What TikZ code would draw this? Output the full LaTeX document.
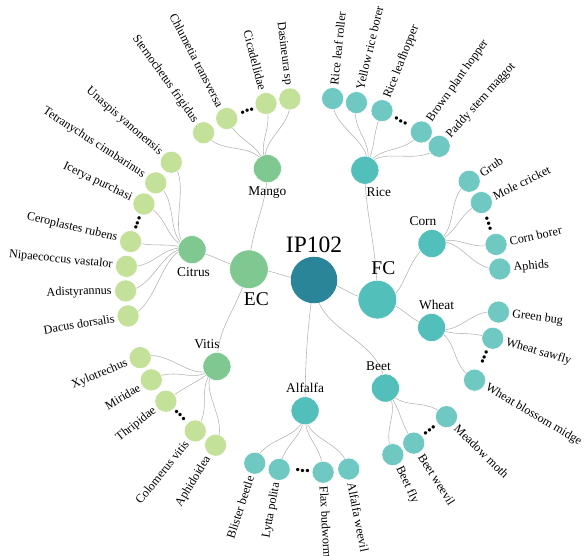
\documentclass[tikz,border=0pt]{standalone}
\usepackage{fontspec}
\setmainfont{Liberation Serif}
\usetikzlibrary{backgrounds}
\definecolor{rootc}{HTML}{2B8599}
\definecolor{ecc}{HTML}{80C891}
\definecolor{ecleaf}{HTML}{C4E19A}
\definecolor{fcc}{HTML}{52BFBB}
\definecolor{fcleaf}{HTML}{6FC8C1}
\tikzset{
  rootnode/.style={circle, fill=rootc, minimum size=46.5pt, inner sep=0pt},
  groupnode/.style={circle, fill=#1, draw=white, line width=0.5pt, minimum size=38.6pt, inner sep=0pt},
  cropnode/.style={circle, fill=#1, draw=white, line width=0.5pt, minimum size=28pt, inner sep=0pt},
  pestnode/.style={circle, fill=#1, draw=white, line width=0.5pt, minimum size=22pt, inner sep=0pt},
  lbl/.style={font=\fontsize{12.2}{14}\selectfont, inner sep=2.5pt},
  txtR/.style 2 args={label={[lbl, rotate=#1, anchor=west]#1:#2}},
  txtL/.style 2 args={label={[lbl, rotate=#1-180, anchor=east]#1:#2}},
  croplbl/.style={font=\fontsize{13.4}{15}\selectfont},
  grouplbl/.style={font=\fontsize{19.5}{22}\selectfont},
  rootlbl/.style={font=\fontsize{23.5}{26}\selectfont},
  gapdots/.style={rotate=#1+90, inner sep=0pt, font=\fontsize{14}{14}\selectfont},
  linkline/.style={draw=black!30, line width=0.55pt},
}

\begin{document}
\begin{tikzpicture}[x=1pt, y=1pt]
  \useasboundingbox (-313,-270) rectangle (273,285);

  \node[rootnode, label={[rootlbl]above:IP102}] (ip) at (1,5) {};
  \node[groupnode=ecc, label={[grouplbl, xshift=7.5pt]below:EC}] (ec) at (166.2:66) {};
  \node[groupnode=fcc, label={[grouplbl, xshift=6pt, yshift=2pt]above:FC}] (fc) at (-12.8:66) {};

  % economic crops
  \node[cropnode=ecc, label={[croplbl]below:Mango}] (mango) at (111.4:125) {};
  \node[cropnode=ecc, label={[croplbl, xshift=1.5pt]below:Citrus}] (citrus) at (163.7:126) {};
  \node[cropnode=ecc, label={[croplbl, xshift=-10pt]above:Vitis}] (vitis) at (220.3:126) {};
  % field crops
  \node[cropnode=fcc, label={[croplbl, xshift=14pt]below:Rice}] (rice) at (65.7:126) {};
  \node[cropnode=fcc, label={[croplbl, xshift=-9pt]above:Corn}] (corn) at (19.2:126) {};
  \node[cropnode=fcc, label={[croplbl, xshift=5pt]above:Wheat}] (wheat) at (-19.7:126) {};
  \node[cropnode=fcc, label={[croplbl, xshift=-7pt]above:Beet}] (beet) at (-54.9:126) {};
  \node[cropnode=fcc, label={[croplbl]above:Alfalfa}] (alfalfa) at (266.4:126) {};

  % mango pests
  \node[pestnode=ecleaf, txtL={125.7}{Sternochetus frigidus}] (sterno) at (125.7:187.5) {};
  \node[pestnode=ecleaf, txtL={117.4}{Chlumetia transversa}] (chlum) at (117.4:187.5) {};
  \node[gapdots=110.7] (dmango) at (110.7:187.5) {\textbullet\textbullet\textbullet};
  \node[pestnode=ecleaf, txtL={104.5}{Cicadellidae}] (cicad) at (104.5:187.5) {};
  \node[pestnode=ecleaf, txtL={97.1}{Dasineura sp}] (dasin) at (97.1:187.5) {};
  % citrus pests
  \node[pestnode=ecleaf, txtL={139.1}{Unaspis yanonensis}] (unasp) at (139.1:187.5) {};
  \node[pestnode=ecleaf, txtL={147}{Tetranychus cinnbarinus}] (tetra) at (147:187.5) {};
  \node[pestnode=ecleaf, txtL={154.4}{Icerya purchasi}] (icery) at (154.4:187.5) {};
  \node[gapdots=160.6] (dcitrus) at (160.6:187.5) {\textbullet\textbullet\textbullet};
  \node[pestnode=ecleaf, txtL={166.6}{Ceroplastes rubens}] (cerop) at (166.6:187.5) {};
  \node[pestnode=ecleaf, txtL={174.3}{Nipaecoccus vastalor}] (nipae) at (174.3:187.5) {};
  \node[pestnode=ecleaf, txtL={181.8}{Adistyrannus}] (adist) at (181.8:187.5) {};
  \node[pestnode=ecleaf, txtL={189.5}{Dacus dorsalis}] (dacus) at (189.5:187.5) {};
  % vitis pests
  \node[pestnode=ecleaf, txtL={202.8}{Xylotrechus}] (xylot) at (202.8:187.5) {};
  \node[pestnode=ecleaf, txtL={210.4}{Miridae}] (mirid) at (210.4:187.5) {};
  \node[pestnode=ecleaf, txtL={218.3}{Thripidae}] (thrip) at (218.3:187.5) {};
  \node[gapdots=224.4] (dvitis) at (224.4:187.5) {\textbullet\textbullet\textbullet};
  \node[pestnode=ecleaf, txtL={231.1}{Colomerus vitis}] (colom) at (231.1:187.5) {};
  \node[pestnode=ecleaf, txtL={238.7}{Aphidoidea}] (aphid) at (238.7:187.5) {};
  % alfalfa pests
  \node[pestnode=fcleaf, txtL={251.9}{Blister beetle}] (blist) at (251.9:187.5) {};
  \node[pestnode=fcleaf, txtL={259.6}{Lytta polita}] (lytta) at (259.6:187.5) {};
  \node[gapdots=266.8] (dalfalfa) at (266.8:187.5) {\textbullet\textbullet\textbullet};
  \node[pestnode=fcleaf, txtR={273.1}{Flax budworm}] (flax) at (273.1:187.5) {};
  \node[pestnode=fcleaf, txtR={281}{Alfalfa weevil}] (alfwv) at (281:187.5) {};
  % beet pests
  \node[pestnode=fcleaf, txtR={295.2}{Beet fly}] (beetfly) at (295.2:187.5) {};
  \node[pestnode=fcleaf, txtR={302.5}{Beet weevil}] (beetwv) at (302.5:187.5) {};
  \node[gapdots=308.8] (dbeet) at (308.8:187.5) {\textbullet\textbullet\textbullet};
  \node[pestnode=fcleaf, txtR={315.4}{Meadow moth}] (meadow) at (315.4:187.5) {};
  % wheat pests
  \node[pestnode=fcleaf, txtR={329.5}{Wheat blossom midge}] (blossom) at (329.5:187.5) {};
  \node[gapdots=337.1] (dwheat) at (337.1:187.5) {\textbullet\textbullet\textbullet};
  \node[pestnode=fcleaf, txtR={343.5}{Wheat sawfly}] (sawfly) at (343.5:187.5) {};
  \node[pestnode=fcleaf, txtR={351.7}{Green bug}] (greenbug) at (351.7:187.5) {};
  % corn pests
  \node[pestnode=fcleaf, txtR={4.9}{Aphids}] (aphids) at (4.9:187.5) {};
  \node[pestnode=fcleaf, txtR={12.5}{Corn borer}] (cornbr) at (12.5:187.5) {};
  \node[gapdots=19.2] (dcorn) at (19.2:187.5) {\textbullet\textbullet\textbullet};
  \node[pestnode=fcleaf, txtR={26.1}{Mole cricket}] (molecr) at (26.1:187.5) {};
  \node[pestnode=fcleaf, txtR={33.6}{Grub}] (grub) at (33.6:187.5) {};
  % rice pests
  \node[pestnode=fcleaf, txtR={47.7}{Paddy stem maggot}] (paddy) at (47.7:187.5) {};
  \node[pestnode=fcleaf, txtR={54.7}{Brown plant hopper}] (brown) at (54.7:187.5) {};
  \node[gapdots=61.8] (drice) at (61.8:187.5) {\textbullet\textbullet\textbullet};
  \node[pestnode=fcleaf, txtR={68.4}{Rice leafhopper}] (leafhop) at (68.4:187.5) {};
  \node[pestnode=fcleaf, txtR={76.6}{Yellow rice borer}] (yellow) at (76.6:187.5) {};
  \node[pestnode=fcleaf, txtR={84}{Rice leaf roller}] (roller) at (84:187.5) {};

  \begin{scope}[on background layer]
    \draw[linkline] (ip.center) .. controls (-30,5) and (-35,16) .. (ec.center);
    \draw[linkline] (ip.center) .. controls (30,3) and (35,-14) .. (fc.center);
    \draw[linkline] (ip.center) .. controls (-5,-40) and (-8,-70) .. (alfalfa.center);
    \draw[linkline] (ip.center) .. controls (1,-50) and (70,-50) .. (beet.center);

    \draw[linkline] (ec.center) .. controls (-62,60) and (-46,75) .. (mango.center);
    \draw[linkline] (ec.center) .. controls (166.2:96) and (163.7:96) .. (citrus.center);
    \draw[linkline] (ec.center) .. controls (-78,-30) and (-96,-40) .. (vitis.center);
    \draw[linkline] (fc.center) .. controls (64,40) and (52,70) .. (rice.center);
    \draw[linkline] (fc.center) .. controls (-12.8:96) and (19.2:96) .. (corn.center);
    \draw[linkline] (fc.center) .. controls (-12.8:96) and (-19.7:96) .. (wheat.center);

    \draw[linkline] (mango.center) .. controls (111.4:157) and (125.7:157) .. (sterno.center);
    \draw[linkline] (mango.center) .. controls (111.4:157) and (117.4:157) .. (chlum.center);
    \draw[linkline] (mango.center) .. controls (111.4:157) and (104.5:157) .. (cicad.center);
    \draw[linkline] (mango.center) .. controls (111.4:157) and (97.1:157) .. (dasin.center);

    \draw[linkline] (citrus.center) .. controls (163.7:157) and (139.1:157) .. (unasp.center);
    \draw[linkline] (citrus.center) .. controls (163.7:157) and (147:157) .. (tetra.center);
    \draw[linkline] (citrus.center) .. controls (163.7:157) and (154.4:157) .. (icery.center);
    \draw[linkline] (citrus.center) .. controls (163.7:157) and (166.6:157) .. (cerop.center);
    \draw[linkline] (citrus.center) .. controls (163.7:157) and (174.3:157) .. (nipae.center);
    \draw[linkline] (citrus.center) .. controls (163.7:157) and (181.8:157) .. (adist.center);
    \draw[linkline] (citrus.center) .. controls (163.7:157) and (189.5:157) .. (dacus.center);

    \draw[linkline] (vitis.center) .. controls (220.3:157) and (202.8:157) .. (xylot.center);
    \draw[linkline] (vitis.center) .. controls (220.3:157) and (210.4:157) .. (mirid.center);
    \draw[linkline] (vitis.center) .. controls (220.3:157) and (218.3:157) .. (thrip.center);
    \draw[linkline] (vitis.center) .. controls (220.3:157) and (231.1:157) .. (colom.center);
    \draw[linkline] (vitis.center) .. controls (220.3:157) and (238.7:157) .. (aphid.center);

    \draw[linkline] (alfalfa.center) .. controls (266.4:157) and (251.9:157) .. (blist.center);
    \draw[linkline] (alfalfa.center) .. controls (266.4:157) and (259.6:157) .. (lytta.center);
    \draw[linkline] (alfalfa.center) .. controls (266.4:157) and (273.1:157) .. (flax.center);
    \draw[linkline] (alfalfa.center) .. controls (266.4:157) and (281:157) .. (alfwv.center);

    \draw[linkline] (beet.center) .. controls (305.1:157) and (295.2:157) .. (beetfly.center);
    \draw[linkline] (beet.center) .. controls (305.1:157) and (302.5:157) .. (beetwv.center);
    \draw[linkline] (beet.center) .. controls (305.1:157) and (315.4:157) .. (meadow.center);

    \draw[linkline] (wheat.center) .. controls (340.3:157) and (329.5:157) .. (blossom.center);
    \draw[linkline] (wheat.center) .. controls (340.3:157) and (343.5:157) .. (sawfly.center);
    \draw[linkline] (wheat.center) .. controls (340.3:157) and (351.7:157) .. (greenbug.center);

    \draw[linkline] (corn.center) .. controls (19.2:157) and (4.9:157) .. (aphids.center);
    \draw[linkline] (corn.center) .. controls (19.2:157) and (12.5:157) .. (cornbr.center);
    \draw[linkline] (corn.center) .. controls (19.2:157) and (26.1:157) .. (molecr.center);
    \draw[linkline] (corn.center) .. controls (19.2:157) and (33.6:157) .. (grub.center);

    \draw[linkline] (rice.center) .. controls (65.7:157) and (47.7:157) .. (paddy.center);
    \draw[linkline] (rice.center) .. controls (65.7:157) and (54.7:157) .. (brown.center);
    \draw[linkline] (rice.center) .. controls (65.7:157) and (68.4:157) .. (leafhop.center);
    \draw[linkline] (rice.center) .. controls (65.7:157) and (76.6:157) .. (yellow.center);
    \draw[linkline] (rice.center) .. controls (65.7:157) and (84:157) .. (roller.center);
  \end{scope}
\end{tikzpicture}
\end{document}
